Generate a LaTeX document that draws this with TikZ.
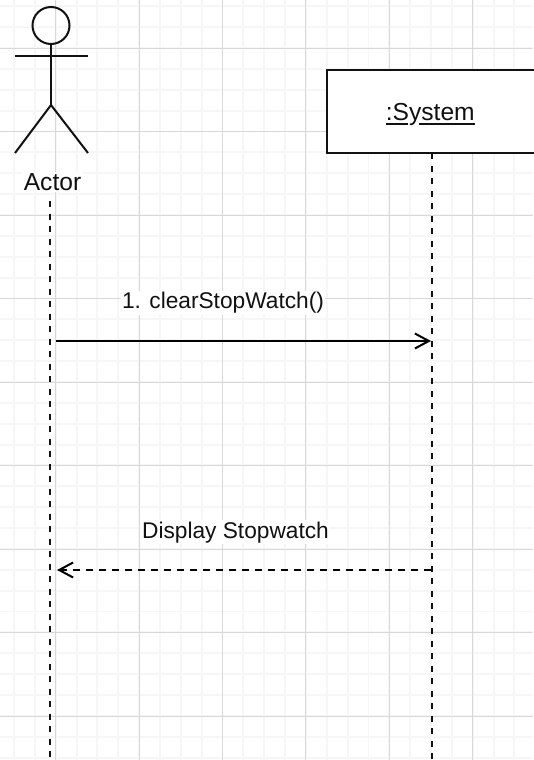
\documentclass[tikz,border=0pt]{standalone}
\usepackage{fontspec}
\setmainfont{Liberation Sans}
\usetikzlibrary{arrows.meta}
\definecolor{gridminor}{HTML}{F6F6F6}
\definecolor{gridmajor}{HTML}{D8D8D8}
\definecolor{ink}{HTML}{111111}
\tikzset{
  x=1pt,y=-1pt,
  minorgrid/.style={draw=gridminor,line width=1.9pt},
  majorgrid/.style={draw=gridmajor,line width=1.1pt},
  figure/.style={draw=ink,line width=2pt},
  lifeline/.style={draw=ink,line width=2pt,dash pattern=on 6pt off 6.5pt},
  openhead/.style={-{Straight Barb[length=14pt,width=15pt,line width=2pt]}},
  msg/.style={draw=black,line width=2pt,openhead},
  reply/.style={draw=black,line width=2pt,dash pattern=on 7pt off 6pt,openhead},
  lbl/.style={fill=white,inner sep=1.5pt,anchor=base,text=ink,font=\fontsize{22.7}{26}\selectfont},
}
\begin{document}
\begin{tikzpicture}
\useasboundingbox (0,0) rectangle (533,760);
\fill[white] (0,0) rectangle (533,760);
% grid
\foreach \i in {0,...,26}{
  \pgfmathsetmacro{\gx}{14+20.85*\i}
  \draw[minorgrid] (\gx,0) -- (\gx,760);
}
\foreach \i in {0,...,36}{
  \pgfmathsetmacro{\gy}{6.3+20.87*\i}
  \draw[minorgrid] (0,\gy) -- (533,\gy);
}
\foreach \i in {0,...,5}{
  \pgfmathsetmacro{\gx}{55.7+83.4*\i}
  \draw[majorgrid] (\gx,0) -- (\gx,760);
}
\foreach \i in {0,...,8}{
  \pgfmathsetmacro{\gy}{48.2+83.5*\i}
  \draw[majorgrid] (0,\gy) -- (533,\gy);
}
% actor
\node[draw=ink,line width=2pt,circle,minimum size=37pt,inner sep=0pt] (head) at (51,25.5) {};
\coordinate (hip) at (51,105);
\coordinate (armL) at (15,56);
\coordinate (armR) at (88,56);
\coordinate (footL) at (15,153);
\coordinate (footR) at (88,153);
\draw[figure] (head.south) -- (hip);
\draw[figure] (armL) -- (armR);
\draw[figure] (footL) -- (hip) -- (footR);
\node[lbl,font=\fontsize{24.6}{28}\selectfont] (actor) at (52.5,190) {Actor};
% system box
\path[fill=white] (327,70) rectangle (540,153);
\draw[draw=ink,line width=2.2pt] (540,70) -- (327,70) -- (327,153) -- (540,153);
\coordinate (sysbottom) at (431.5,153);
\node[inner sep=0pt,anchor=base,text=ink,font=\fontsize{24.6}{28}\selectfont] (system) at (430.3,120.7) {\rlap{\rule[-4pt]{22pt}{1.8pt}\hspace{11pt}\rule[-4pt]{56pt}{1.8pt}}:System};
% lifelines
\coordinate (actortop) at (50,201);
\coordinate (actorend) at (50,760);
\coordinate (sysend) at (431.5,760);
\draw[lifeline] (actortop) -- (actorend);
\draw[lifeline] (sysbottom) -- (sysend);
% messages
\coordinate (m1a) at (56,341);
\coordinate (m1b) at (431,341);
\coordinate (m2a) at (431,570);
\coordinate (m2b) at (57,570);
\draw[msg] (m1a) -- (m1b);
\draw[reply] (m2a) -- (m2b);
\node[lbl] (m1label) at (223,308.5) {1. clearStopWatch()};
\node[lbl] (m2label) at (235.5,538) {Display Stopwatch};
\end{tikzpicture}
\end{document}
